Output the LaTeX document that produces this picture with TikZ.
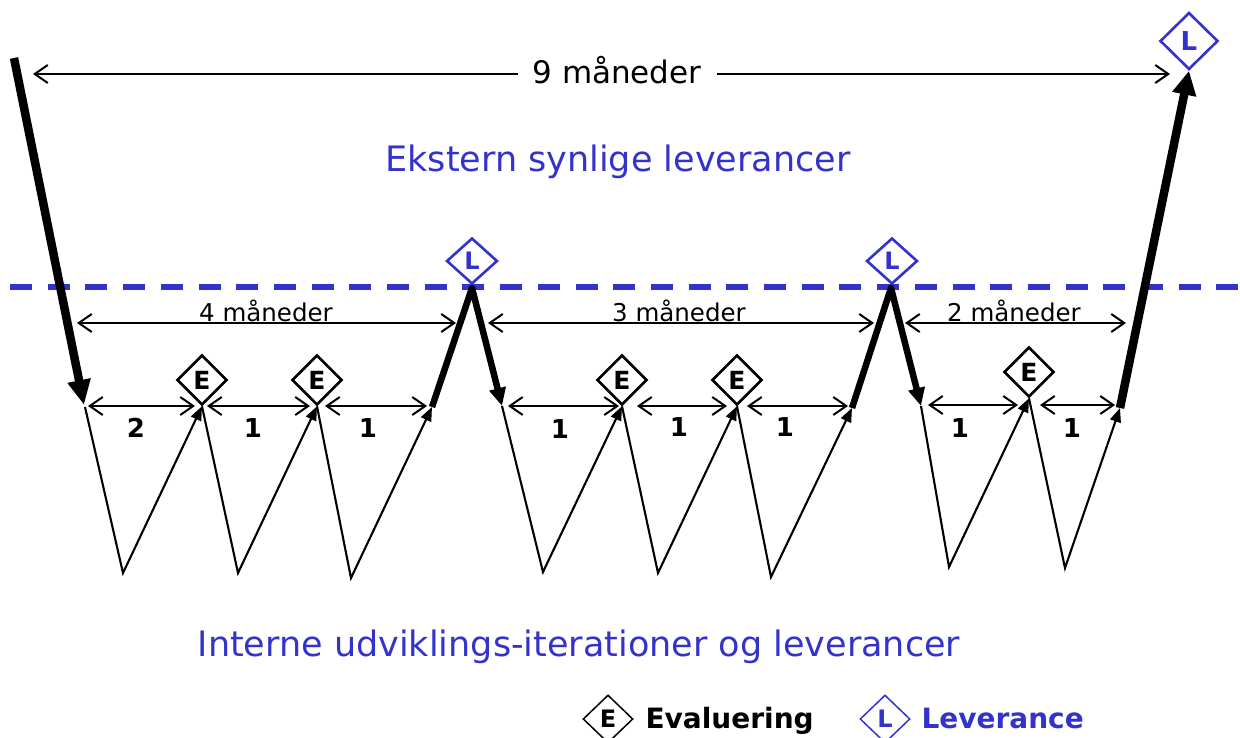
\documentclass[tikz,border=0pt]{standalone}
\usepackage{fontspec}
\setmainfont{DejaVu Sans}
\usetikzlibrary{arrows.meta,shapes.geometric}
\definecolor{lblue}{RGB}{51,51,204}
\begin{document}
\begin{tikzpicture}[x=1pt,y=-1pt,
  thickarr/.style={line width=8.5pt},
  peakline/.style={line width=6.5pt, line join=round},
  thinline/.style={line width=2.1pt, line join=miter},
  uptip/.style={-{Triangle[length=14pt,width=11pt]}},
  dimarr/.style={line width=2pt, {Straight Barb[length=13pt,width=18pt]}-{Straight Barb[length=13pt,width=18pt]}},
  edia/.style={draw, diamond, line width=2.6pt, minimum width=50pt, minimum height=50pt, inner sep=0pt, fill=white, font=\fontsize{25}{28}\selectfont\bfseries},
  ldia/.style={draw=lblue, text=lblue, diamond, line width=2.6pt, minimum width=51pt, minimum height=46pt, inner sep=0pt, fill=white, font=\fontsize{24}{28}\selectfont\bfseries},
  bigldia/.style={ldia, minimum width=58pt, minimum height=57pt, font=\fontsize{26}{30}\selectfont\bfseries},
  legdia/.style={draw, diamond, line width=1.5pt, minimum width=50pt, minimum height=48pt, inner sep=0pt, font=\fontsize{24}{28}\selectfont\bfseries},
  mlabel/.style={anchor=base, font=\fontsize{24.5}{28}\selectfont},
  nlabel/.style={anchor=base, font=\fontsize{26}{30}\selectfont\bfseries},
  title/.style={anchor=base, text=lblue, font=\fontsize{35}{42}\selectfont}
]
\useasboundingbox (0,0) rectangle (1240,738);

% dashed separation line
\coordinate (dl) at (10,287);
\coordinate (dr) at (1240,287);
\draw[lblue, line width=6pt, dash pattern=on 22pt off 15.7pt] (dl) -- (dr);

% titles
\node[title] (ext) at (618,172) {Ekstern synlige leverancer};
\node[title] (int) at (579,656) {Interne udviklings-iterationer og leverancer};

% top 9 months dimension
\coordinate (d9a) at (33,74);
\coordinate (d9b) at (1170,74);
\draw[dimarr] (d9a) -- (d9b);
\node[anchor=base, fill=white, inner xsep=15pt, inner ysep=2pt, font=\fontsize{31}{36}\selectfont] (t9) at (617,84) {9 måneder};

% diamonds
\node[bigldia] (Ltop) at (1189,41) {L};
\node[ldia] (L1) at (472,261) {L};
\node[ldia] (L2) at (892,261) {L};
\node[edia] (E1) at (202,380) {E};
\node[edia] (E2) at (317,380) {E};
\node[edia] (E3) at (622,380) {E};
\node[edia] (E4) at (737,380) {E};
\node[edia] (E5) at (1029,372) {E};

% key points
\coordinate (tl) at (14,58);
\coordinate (s1) at (84,405);
\coordinate (a1) at (85,407);
\coordinate (v1) at (123,573);
\coordinate (v2) at (238,573);
\coordinate (v3) at (351,578);
\coordinate (p1a) at (432,407);
\coordinate (pk1) at (472,288);
\coordinate (p1b) at (502,406);
\coordinate (v4) at (543,572);
\coordinate (v5) at (658,573);
\coordinate (v6) at (771,577);
\coordinate (p2a) at (852,408);
\coordinate (pk2) at (891,288);
\coordinate (p2b) at (921,406);
\coordinate (v7) at (949,567);
\coordinate (v8) at (1065,568);
\coordinate (fe) at (1120,408);

% thick outer arrows
\draw[thickarr, -{Triangle[length=25pt,width=22pt]}] (tl) -- (s1);
\draw[thickarr, -{Triangle[length=24pt,width=23pt]}] (fe) -- (Ltop.south);

% peaks
\draw[peakline, -{Triangle[length=18pt,width=16pt]}] (p1a) -- (pk1) -- (p1b);
\draw[peakline, -{Triangle[length=18pt,width=16pt]}] (p2a) -- (pk2) -- (p2b);

% thin zigzags
\draw[thinline, uptip] (a1) -- (v1) -- (E1.south);
\draw[thinline, uptip] (E1.south) -- (v2) -- (E2.south);
\draw[thinline, uptip] (E2.south) -- (v3) -- (p1a);
\draw[thinline, uptip] (p1b) -- (v4) -- (E3.south);
\draw[thinline, uptip] (E3.south) -- (v5) -- (E4.south);
\draw[thinline, uptip] (E4.south) -- (v6) -- (p2a);
\draw[thinline, uptip] (p2b) -- (v7) -- (E5.south);
\draw[thinline, uptip] (E5.south) -- (v8) -- (fe);

% month dimensions
\coordinate (m4a) at (77,323);  \coordinate (m4b) at (456,323);
\coordinate (m3a) at (488,323); \coordinate (m3b) at (874,323);
\coordinate (m2a) at (905,323); \coordinate (m2b) at (1126,323);
\draw[dimarr] (m4a) -- (m4b);
\draw[dimarr] (m3a) -- (m3b);
\draw[dimarr] (m2a) -- (m2b);
\node[mlabel] (t4) at (266,321) {4 måneder};
\node[mlabel] (t3) at (679,321) {3 måneder};
\node[mlabel] (t2) at (1014,321) {2 måneder};

% iteration dimensions
\coordinate (i1a) at (88,406);  \coordinate (i1b) at (195,406);
\coordinate (i2a) at (207,406); \coordinate (i2b) at (310,406);
\coordinate (i3a) at (325,406); \coordinate (i3b) at (427,406);
\coordinate (i4a) at (508,406); \coordinate (i4b) at (619,406);
\coordinate (i5a) at (637,406); \coordinate (i5b) at (727,406);
\coordinate (i6a) at (747,406); \coordinate (i6b) at (848,406);
\coordinate (i7a) at (928,405); \coordinate (i7b) at (1018,405);
\coordinate (i8a) at (1040,405); \coordinate (i8b) at (1115,405);
\foreach \k in {1,...,8}{\draw[dimarr] (i\k a) -- (i\k b);}
\node[nlabel] (n1) at (136,437) {2};
\node[nlabel] (n2) at (253,437) {1};
\node[nlabel] (n3) at (368,437) {1};
\node[nlabel] (n4) at (560,438) {1};
\node[nlabel] (n5) at (679,436) {1};
\node[nlabel] (n6) at (785,436) {1};
\node[nlabel] (n7) at (960,437) {1};
\node[nlabel] (n8) at (1072,437) {1};

% legend
\node[legdia] (le) at (608,719) {E};
\node[anchor=base west, font=\fontsize{28}{32}\selectfont\bfseries] (lev) at (642,728) {Evaluering};
\node[legdia, draw=lblue, text=lblue] (ll) at (885,719) {L};
\node[anchor=base west, text=lblue, font=\fontsize{28}{32}\selectfont\bfseries] (lle) at (918,728) {Leverance};
\end{tikzpicture}
\end{document}
